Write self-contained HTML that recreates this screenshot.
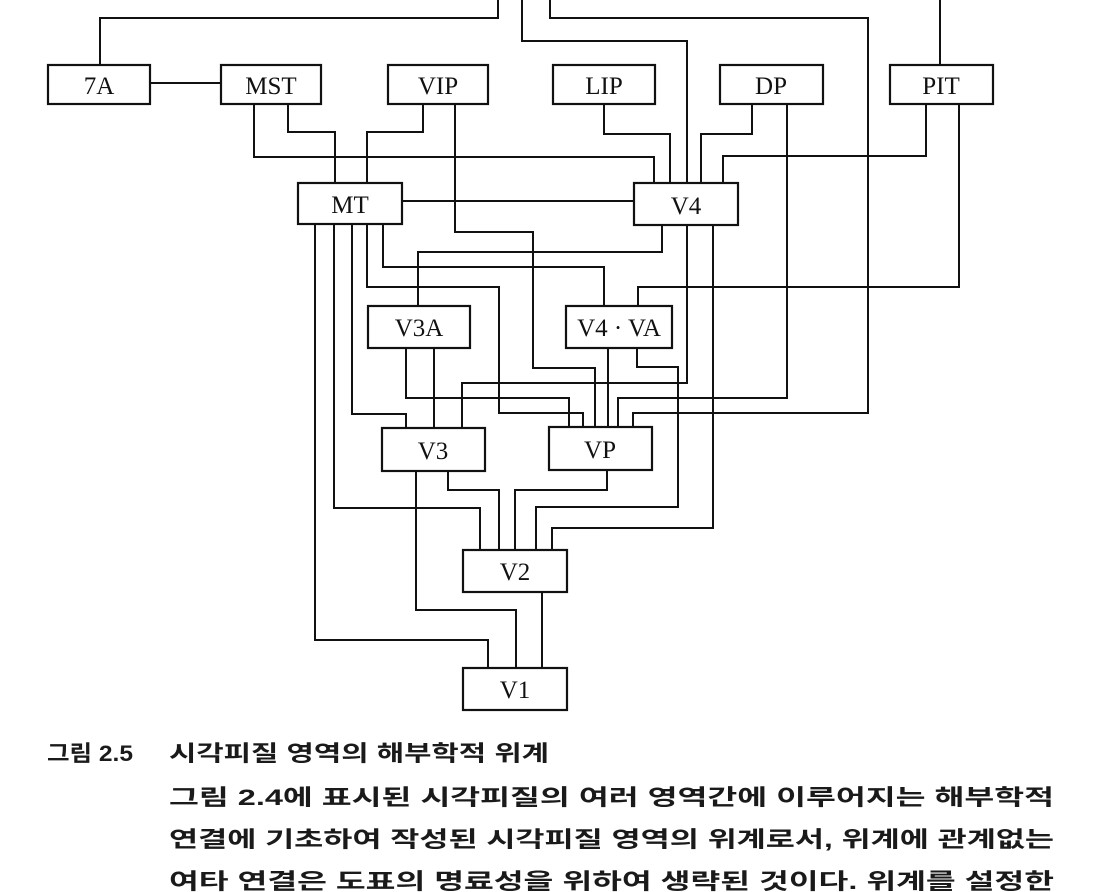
<!DOCTYPE html>
<html><head><meta charset="utf-8"><style>
html,body{margin:0;padding:0;background:#fff;}
svg{display:block}
.b{fill:#fff;stroke:#111;stroke-width:2.2}
.l{fill:none;stroke:#111;stroke-width:2}
.t{font-family:"Liberation Serif",serif;font-size:25px;fill:#111;text-anchor:middle}
.c{font-family:"Liberation Sans","Noto Sans CJK KR","NanumGothic",sans-serif;font-size:22px;font-weight:bold;fill:#1a1a1a}
</style></head><body>
<svg width="1105" height="892" viewBox="0 0 1105 892" xmlns="http://www.w3.org/2000/svg">
<g class="l">
<polyline points="498,0 498,18 100,18 100,66"/>
<polyline points="522,0 522,41 687,41 687,183"/>
<polyline points="550,0 550,18 868,18 868,413 633,413 633,427"/>
<polyline points="940,0 940,66"/>
<polyline points="150,83 221,83"/>
<polyline points="254,104 254,157 654,157 654,183"/>
<polyline points="288,104 288,132 335,132 335,183"/>
<polyline points="423,104 423,132 367,132 367,183"/>
<polyline points="455,104 455,232 533,232 533,368 595,368 595,427"/>
<polyline points="604,104 604,134 670,134 670,183"/>
<polyline points="752,104 752,134 701,134 701,183"/>
<polyline points="787,104 787,398 618,398 618,427"/>
<polyline points="926,104 926,156 723,156 723,183"/>
<polyline points="959,104 959,287 638,287 638,306"/>
<polyline points="402,201 634,201"/>
<polyline points="383,224 383,267 604,267 604,306"/>
<polyline points="367,224 367,287 499,287 499,413 583,413 583,427"/>
<polyline points="352,224 352,414 406,414 406,428"/>
<polyline points="334,224 334,508 480,508 480,550"/>
<polyline points="315,224 315,640 488,640 488,668"/>
<polyline points="662,225 662,252 418,252 418,306"/>
<polyline points="687,225 687,383 462,383 462,428"/>
<polyline points="713,225 713,528 552,528 552,550"/>
<polyline points="608,348 608,427"/>
<polyline points="637,348 637,367 678,367 678,507 536,507 536,550"/>
<polyline points="406,348 406,398 569,398 569,427"/>
<polyline points="434,348 434,428"/>
<polyline points="416,471 416,610 516,610 516,668"/>
<polyline points="448,471 448,490 499,490 499,550"/>
<polyline points="607,470 607,490 515,490 515,550"/>
<polyline points="542,592 542,668"/>
</g>
<rect class="b" x="48" y="65" width="102" height="39"/>
<rect class="b" x="221" y="65" width="100" height="39"/>
<rect class="b" x="388" y="65" width="100" height="39"/>
<rect class="b" x="553" y="65" width="102" height="39"/>
<rect class="b" x="720" y="65" width="103" height="39"/>
<rect class="b" x="890" y="65" width="103" height="39"/>
<rect class="b" x="298" y="183" width="104" height="41"/>
<rect class="b" x="634" y="183" width="104" height="42"/>
<rect class="b" x="368" y="306" width="102" height="42"/>
<rect class="b" x="566" y="306" width="106" height="42"/>
<rect class="b" x="382" y="428" width="103" height="43"/>
<rect class="b" x="549" y="427" width="103" height="43"/>
<rect class="b" x="463" y="550" width="104" height="42"/>
<rect class="b" x="463" y="668" width="104" height="42"/>
<text class="t" x="99" y="94">7A</text>
<text class="t" x="271" y="94">MST</text>
<text class="t" x="438" y="94">VIP</text>
<text class="t" x="604" y="94">LIP</text>
<text class="t" x="771" y="94">DP</text>
<text class="t" x="941" y="94">PIT</text>
<text class="t" x="350" y="213">MT</text>
<text class="t" x="686" y="214">V4</text>
<text class="t" x="419" y="336">V3A</text>
<text class="t" x="619" y="336">V4 · VA</text>
<text class="t" x="433" y="459">V3</text>
<text class="t" x="600" y="458">VP</text>
<text class="t" x="515" y="580">V2</text>
<text class="t" x="515" y="698">V1</text>
<text class="c" x="47" y="761" textLength="86" lengthAdjust="spacingAndGlyphs">그림 2.5</text>
<text class="c" x="169" y="761" textLength="380" lengthAdjust="spacingAndGlyphs">시각피질 영역의 해부학적 위계</text>
<text class="c" x="169" y="805" textLength="885" lengthAdjust="spacingAndGlyphs">그림 2.4에 표시된 시각피질의 여러 영역간에 이루어지는 해부학적</text>
<text class="c" x="169" y="847" textLength="885" lengthAdjust="spacingAndGlyphs">연결에 기초하여 작성된 시각피질 영역의 위계로서, 위계에 관계없는</text>
<text class="c" x="169" y="889" textLength="885" lengthAdjust="spacingAndGlyphs">여타 연결은 도표의 명료성을 위하여 생략된 것이다. 위계를 설정한</text>
</svg>
</body></html>
